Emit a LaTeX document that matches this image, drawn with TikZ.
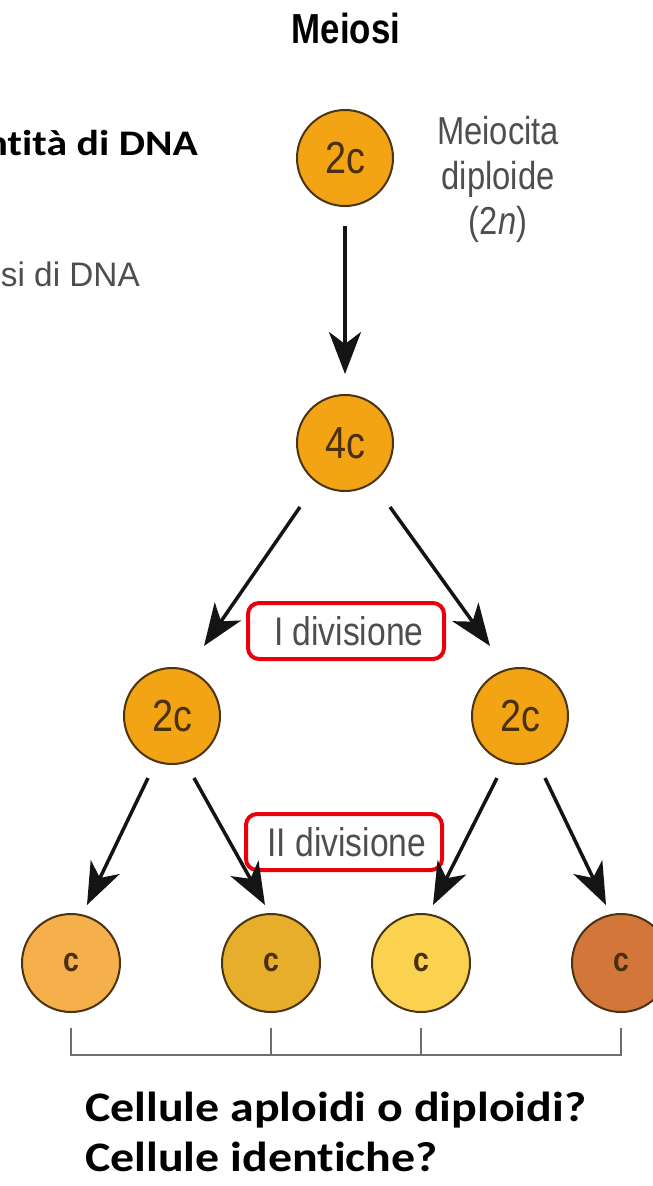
\documentclass[tikz,border=0pt]{standalone}
\usepackage{fontspec}
\usepackage{graphicx}
\setmainfont{Liberation Sans}
\newfontfamily\calibrifont[Ligatures=NoCommon]{Carlito}
\usetikzlibrary{arrows.meta}
\definecolor{cellor}{HTML}{F2A414}
\definecolor{cellbd}{HTML}{4A3414}
\definecolor{celltx}{HTML}{4A300E}
\definecolor{graytx}{HTML}{4E4E4E}
\definecolor{boxred}{HTML}{E8000B}
\definecolor{bracketgray}{HTML}{6E6E6E}
\definecolor{cellA}{HTML}{F5AF4B}
\definecolor{cellB}{HTML}{E6AE2A}
\definecolor{cellC}{HTML}{FAD250}
\definecolor{cellD}{HTML}{D2763A}
\newcommand{\cnd}[1]{\scalebox{0.84}[1]{#1}}
\newcommand{\wid}[1]{\scalebox{1.16}[1]{#1}}
\tikzset{
  cell/.style={circle, draw=cellbd, line width=2pt, minimum size=96pt, inner sep=0pt,
    fill=cellor, text=celltx, font=\fontsize{45}{45}\selectfont},
  smallcell/.style={cell, minimum size=98pt, font=\bfseries\fontsize{34}{34}\selectfont},
  arr/.style={line width=3.5pt, draw=black!92, -{Stealth[length=42pt,width=32pt,inset=12pt]}},
  divbox/.style={draw=boxred, line width=4pt, rounded corners=11pt, minimum width=196pt,
    minimum height=56pt, inner sep=0pt, text=graytx, font=\fontsize{40}{40}\selectfont},
  graytext/.style={text=graytx, inner sep=0pt},
  question/.style={anchor=base west, inner sep=0pt, font=\calibrifont\bfseries\fontsize{42}{42}\selectfont},
  bracket/.style={draw=bracketgray, line width=2.5pt}
}
\begin{document}
\begin{tikzpicture}[x=1pt,y=-1pt]
\useasboundingbox (0,0) rectangle (653,1186);
\fill[white] (0,0) rectangle (653,1186);

% texts
\node[inner sep=0pt] (title) at (346,28) {\fontsize{42}{42}\selectfont\bfseries\scalebox{0.83}[1]{Meiosi}};
\node[anchor=base east, inner sep=0pt] (qty) at (198,155) {\calibrifont\bfseries\fontsize{36}{36}\selectfont\wid{ntità di DNA}};
\node[anchor=base east, graytext] (sint) at (140,286) {\fontsize{34}{34}\selectfont\scalebox{0.98}[1]{si di DNA}};
\node[graytext, align=center, font=\fontsize{39}{45}\selectfont] (meio) at (498,179) {\cnd{Meiocita}\\\cnd{diploide}\\\cnd{(2\textit{n})}};

% cells
\node[cell] (c0) at (345,158) {\cnd{2c}};
\node[cell] (c1) at (345,443) {\cnd{4c}};
\node[cell] (c2l) at (172,716) {\cnd{2c}};
\node[cell] (c2r) at (520,716) {\cnd{2c}};
\node[smallcell, fill=cellA] (d1) at (71,963) {\cnd{c}};
\node[smallcell, fill=cellB] (d2) at (271,963) {\cnd{c}};
\node[smallcell, fill=cellC] (d3) at (421,963) {\cnd{c}};
\node[smallcell, fill=cellD] (d4) at (621,963) {\cnd{c}};

% division labels
\node[divbox] (div1) at (346,631) {\cnd{\,I divisione}};
\node[divbox] (div2) at (344,842) {\cnd{\,II divisione}};

% arrow end points
\coordinate (a0s) at (345,226);
\coordinate (a0e) at (345,374);
\coordinate (a1s) at (300,507);
\coordinate (a1e) at (204,646);
\coordinate (a2s) at (390,507);
\coordinate (a2e) at (490,646);
\coordinate (b1s) at (148,778);
\coordinate (b1e) at (87,905);
\coordinate (b2s) at (194,778);
\coordinate (b2e) at (265,905);
\coordinate (b3s) at (497,778);
\coordinate (b3e) at (433,905);
\coordinate (b4s) at (545,778);
\coordinate (b4e) at (606,905);

\draw[arr] (a0s) -- (a0e);
\draw[arr] (a1s) -- (a1e);
\draw[arr] (a2s) -- (a2e);
\draw[arr] (b1s) -- (b1e);
\draw[arr] (b2s) -- (b2e);
\draw[arr] (b3s) -- (b3e);
\draw[arr] (b4s) -- (b4e);

% bracket
\coordinate (k1) at (71,1028);
\coordinate (k2) at (271,1028);
\coordinate (k3) at (421,1028);
\coordinate (k4) at (621,1028);
\draw[bracket] (k1) -- ++(0,27) -| (k4);
\draw[bracket] (k2) -- ++(0,27);
\draw[bracket] (k3) -- ++(0,27);

% questions
\node[question] (q1) at (85,1121) {\scalebox{1.14}[1]{Cellule aploidi o diploidi?}};
\node[question] (q2) at (85,1171) {\scalebox{1.14}[1]{Cellule identiche?}};
\end{tikzpicture}
\end{document}
